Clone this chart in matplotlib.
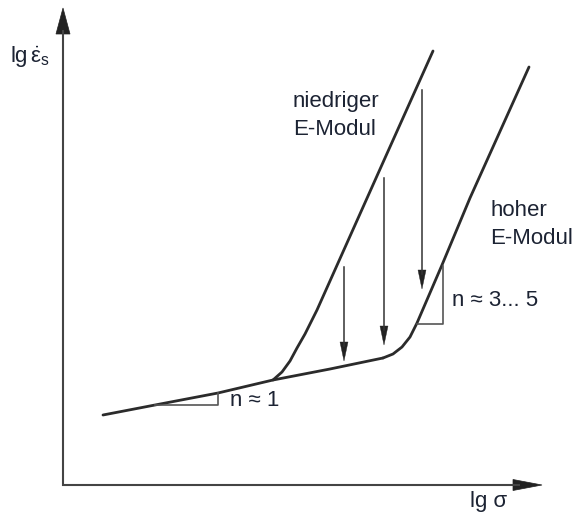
import matplotlib.pyplot as plt

plt.rcParams['font.family'] = ['Liberation Sans', 'DejaVu Sans']
plt.rcParams['mathtext.fontset'] = 'custom'
plt.rcParams['mathtext.rm'] = 'Liberation Sans'
plt.rcParams['mathtext.it'] = 'Liberation Sans'

# schematic (pixel coords, y downwards)
base_x = [103, 155, 218, 273, 330, 383]
base_y = [415, 405, 393, 380, 369, 358]

low_x = [273, 282, 290, 297, 305, 317, 385, 433]
low_y = [380, 372, 361, 348, 334, 310, 158, 51]

high_x = [383, 393, 402, 410, 417, 442, 470, 529]
high_y = [358, 354, 347, 337, 323, 265, 198, 67]

# vertical arrows: x, start y, tip y
arrow_x = [344, 384, 422]
arrow_y0 = [267, 178, 90]
arrow_y1 = [361, 345, 289]

# slope triangles
tri1_x = [155, 218, 218]
tri1_y = [405, 405, 393]
tri2_x = [417, 443, 443]
tri2_y = [324, 324, 266]

txt_col = '#1c2333'
line_col = '#2b2b2b'

fig = plt.figure(figsize=(5.75, 5.16), dpi=100)
ax = fig.add_axes([0, 0, 1, 1])
ax.set_xlim(0, 575)
ax.set_ylim(516, 0)
ax.axis('off')

# axes with arrow heads
ax.plot([63, 63], [486, 30], color='#444444', lw=1.5, solid_capstyle='butt')
ax.plot([62, 520], [485, 485], color='#444444', lw=1.5, solid_capstyle='butt')
ax.arrow(63, 40, 0, -32, width=0, head_width=14, head_length=26,
         length_includes_head=True, color='#222222', lw=0.5)
ax.arrow(510, 485, 32, 0, width=0, head_width=11, head_length=29,
         length_includes_head=True, color='#222222', lw=0.5)

ax.plot(base_x, base_y, color=line_col, lw=2.0, solid_capstyle='round')
ax.plot(low_x, low_y, color=line_col, lw=2.0, solid_capstyle='round')
ax.plot(high_x, high_y, color=line_col, lw=2.0, solid_capstyle='round')

ax.plot(tri1_x, tri1_y, color='#555555', lw=1.2)
ax.plot(tri2_x, tri2_y, color='#555555', lw=1.2)

for x, y0, y1 in zip(arrow_x, arrow_y0, arrow_y1):
    ax.plot([x, x], [y0, y1 - 15], color='#333333', lw=1.1)
    ax.arrow(x, y1 - 19, 0, 19, width=0, head_width=8, head_length=19,
             length_includes_head=True, color='#222222', lw=0.3)

fs = 16
ax.text(293, 107, 'niedriger', fontsize=fs, color=txt_col, va='baseline')
ax.text(293, 135, 'E-Modul', fontsize=fs, color=txt_col, va='baseline')
ax.text(490, 216, 'hoher', fontsize=fs, color=txt_col, va='baseline')
ax.text(490, 244, 'E-Modul', fontsize=fs, color=txt_col, va='baseline')
ax.text(452, 306, 'n \u2248 3... 5', fontsize=fs, color=txt_col, va='baseline')
ax.text(230, 406, 'n \u2248 1', fontsize=fs, color=txt_col, va='baseline')
ax.text(10, 63, r'lg$\,\dot{\varepsilon}_{\mathrm{s}}$', fontsize=fs,
        color=txt_col, va='baseline')
ax.text(470, 507, 'lg \u03c3', fontsize=fs, color=txt_col, va='baseline')

fig.savefig('out.png', dpi=100)
